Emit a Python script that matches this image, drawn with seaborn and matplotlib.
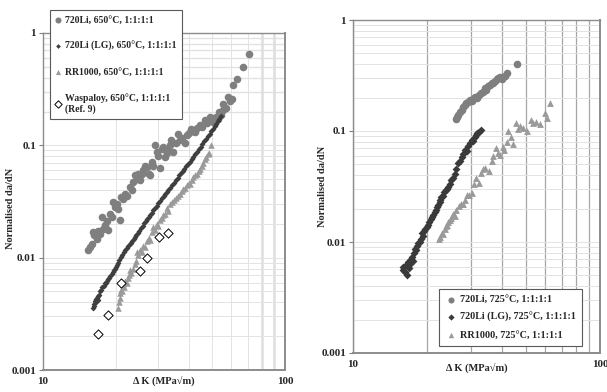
import matplotlib
matplotlib.use('Agg')
import matplotlib.pyplot as plt
import seaborn as sns
from matplotlib.ticker import FixedLocator, LogLocator, NullFormatter

sns.set_style('white')
plt.rcParams['font.family'] = ['Liberation Serif', 'DejaVu Serif']
plt.rcParams['font.weight'] = 'bold'

# ---- 650C data (left panel) ----
li650_x = [15.4, 15.6, 15.9, 16.1, 16.3, 16.7, 16.9, 17.2, 17.5, 17.7, 18.0, 18.3, 18.6,
           18.9, 19.2, 19.5, 19.8, 20.2, 20.5, 20.8, 21.1, 21.4, 21.8, 22.2, 22.9, 23.3,
           23.6, 24.0, 24.4, 24.8, 25.2, 25.6, 26.0, 26.4, 26.9, 27.3, 27.7, 28.1, 28.6,
           29.0, 29.5, 30.0, 30.4, 30.9, 31.4, 31.9, 32.4, 32.9, 33.4, 33.9, 34.5, 35.3,
           36.2, 36.8, 37.6, 38.6, 39.2, 40.1, 41.0, 41.7, 42.4, 43.4, 44.5, 45.5, 46.6,
           47.7, 48.9, 49.7, 50.5, 51.3, 52.1, 52.8, 53.5, 54.4, 55.3, 55.6, 56.8, 58.3,
           59.3, 60.3, 60.9, 63.6, 67.1, 70.8]
li650_y = [0.0116, 0.0125, 0.0133, 0.0168, 0.0158, 0.0147, 0.0174, 0.0163, 0.0229, 0.0181,
           0.0196, 0.0214, 0.0177, 0.0245, 0.0232, 0.0312, 0.0285, 0.0300, 0.0270, 0.0218,
           0.0346, 0.0330, 0.0370, 0.0352, 0.0425, 0.0400, 0.0470, 0.0540, 0.0500, 0.0560,
           0.0490, 0.0560, 0.0600, 0.0660, 0.0640, 0.0560, 0.0540, 0.0710, 0.0650, 0.1000,
           0.0870, 0.0800, 0.0630, 0.0920, 0.0970, 0.0780, 0.0850, 0.0900, 0.1000, 0.1110,
           0.0870, 0.1050, 0.1270, 0.1110, 0.1160, 0.1040, 0.1230, 0.1300, 0.1410, 0.1350,
           0.1310, 0.1420, 0.1510, 0.1450, 0.1670, 0.1580, 0.1790, 0.1700, 0.1620, 0.1760,
           0.1790, 0.1730, 0.1980, 0.1880, 0.2050, 0.2320, 0.2150, 0.2670, 0.2500, 0.2570,
           0.3430, 0.3860, 0.5000, 0.6500]

lg650_x = [16.1, 16.2, 16.3, 16.4, 16.5, 16.6, 16.7, 16.8, 16.9, 17.0, 17.2, 17.4, 17.6,
           17.8, 18.0, 18.2, 18.4, 18.6, 18.8, 19.0, 19.2, 19.4, 19.6, 19.8, 20.0, 20.2,
           20.4, 20.7, 21.0, 21.3, 21.6, 21.9, 22.2, 22.5, 22.8, 23.1, 23.4, 23.7, 24.0,
           24.3, 24.6, 25.0, 25.4, 25.8, 26.2, 26.6, 27.0, 27.4, 27.8, 28.2, 28.6, 29.0,
           29.5, 30.0, 30.5, 31.0, 31.5, 32.0, 32.5, 33.0, 33.6, 34.2, 34.8, 35.4, 36.0,
           36.6, 37.2, 37.8, 38.4, 39.0, 39.7, 40.4, 41.1, 41.8, 42.5, 43.2, 44.0, 44.8,
           45.6, 46.4, 47.2, 48.0, 48.8, 49.6, 50.4, 51.2, 52.0, 52.8, 53.6, 54.4]
lg650_y = [0.0036, 0.0039, 0.0037, 0.0041, 0.0040, 0.0043, 0.0044, 0.0042, 0.0046, 0.0047,
           0.0050, 0.0052, 0.0055, 0.0056, 0.0059, 0.0060, 0.0062, 0.0065, 0.0066, 0.0069,
           0.0071, 0.0074, 0.0077, 0.0079, 0.0082, 0.0086, 0.0090, 0.0095, 0.0101, 0.0106,
           0.0112, 0.0117, 0.0121, 0.0126, 0.0131, 0.0135, 0.0140, 0.0146, 0.0152, 0.0159,
           0.0166, 0.0174, 0.0182, 0.0193, 0.0203, 0.0212, 0.0222, 0.0232, 0.0241, 0.0252,
           0.0263, 0.0275, 0.0290, 0.0305, 0.0322, 0.0338, 0.0352, 0.0368, 0.0385, 0.0402,
           0.0421, 0.0443, 0.0466, 0.0490, 0.0515, 0.0543, 0.0568, 0.0593, 0.0620, 0.0648,
           0.0680, 0.0716, 0.0752, 0.0790, 0.0830, 0.0870, 0.0920, 0.0975, 0.1030, 0.1090,
           0.1150, 0.1210, 0.1270, 0.1340, 0.1410, 0.1480, 0.1550, 0.1640, 0.1730, 0.1820]

rr650_x = [20.4, 20.6, 20.8, 20.9, 21.1, 21.3, 21.5, 21.7, 21.9, 22.2, 22.4, 22.7, 22.9,
           23.2, 23.6, 23.9, 24.3, 24.4, 24.8, 25.2, 25.6, 26.0, 26.4, 26.8, 27.3, 27.7,
           28.2, 28.6, 29.0, 29.5, 30.0, 30.5, 31.0, 31.4, 32.0, 32.5, 33.0, 33.5, 34.2,
           34.8, 35.5, 36.2, 36.8, 37.4, 38.0, 38.7, 39.4, 40.0, 40.5, 41.2, 41.8, 42.5,
           43.2, 44.0, 44.6, 45.2, 46.0, 46.6, 47.3, 47.9, 48.5, 49.3]
rr650_y = [0.0036, 0.0040, 0.0044, 0.0048, 0.0052, 0.0050, 0.0058, 0.0055, 0.0062, 0.0060,
           0.0066, 0.0070, 0.0077, 0.0073, 0.0079, 0.0088, 0.0093, 0.0112, 0.0105, 0.0118,
           0.0113, 0.0128, 0.0124, 0.0140, 0.0150, 0.0145, 0.0170, 0.0187, 0.0176, 0.0200,
           0.0192, 0.0215, 0.0226, 0.0240, 0.0245, 0.0275, 0.0262, 0.0300, 0.0310, 0.0325,
           0.0340, 0.0355, 0.0370, 0.0392, 0.0405, 0.0420, 0.0440, 0.0460, 0.0450, 0.0495,
           0.0520, 0.0545, 0.0560, 0.0590, 0.0620, 0.0650, 0.0700, 0.0760, 0.0790, 0.0840,
           0.0860, 0.1000]

wasp_x = [16.9, 18.6, 21.0, 25.2, 26.9, 30.1, 32.8]
wasp_y = [0.0021, 0.0031, 0.0060, 0.0076, 0.0100, 0.0154, 0.0167]

# ---- 725C data (right panel) ----
li725_x = [26.1, 26.4, 26.7, 27.1, 27.5, 27.9, 28.4, 28.8, 29.3, 29.8, 30.2, 30.8, 31.3,
           31.8, 32.4, 33.1, 33.6, 34.1, 34.7, 35.2, 35.9, 36.5, 37.0, 37.6, 38.2, 38.8,
           39.4, 40.0, 40.6, 41.3, 42.2, 46.3]
li725_y = [0.128, 0.134, 0.139, 0.149, 0.155, 0.165, 0.170, 0.178, 0.184, 0.190, 0.188,
           0.198, 0.204, 0.200, 0.212, 0.218, 0.226, 0.242, 0.236, 0.255, 0.260, 0.268,
           0.272, 0.280, 0.292, 0.300, 0.304, 0.296, 0.308, 0.310, 0.330, 0.400]

lg725_x = [15.9, 16.0, 16.2, 16.4, 16.5, 16.7, 16.8, 17.0, 17.2, 17.3, 17.5, 17.7, 17.8,
           18.0, 18.2, 18.4, 18.6, 18.8, 19.0, 19.2, 19.4, 19.6, 19.9, 20.1, 20.4, 20.6,
           20.8, 21.1, 21.4, 21.6, 21.8, 22.1, 22.4, 22.6, 22.8, 23.1, 23.4, 23.7, 24.0,
           24.3, 24.7, 25.0, 25.4, 25.8, 26.2, 26.7, 27.1, 27.5, 28.0, 28.4, 28.9, 29.3,
           29.8, 30.2, 30.6, 31.1, 31.5, 31.9, 32.5, 33.1]
lg725_y = [0.0060, 0.0056, 0.0054, 0.0062, 0.0050, 0.0066, 0.0058, 0.0064, 0.0070, 0.0074,
           0.0068, 0.0080, 0.0087, 0.0084, 0.0092, 0.0097, 0.0100, 0.0106, 0.0120, 0.0114,
           0.0126, 0.0130, 0.0137, 0.0142, 0.0150, 0.0160, 0.0169, 0.0176, 0.0185, 0.0196,
           0.0208, 0.0215, 0.0228, 0.0240, 0.0256, 0.0262, 0.0280, 0.0292, 0.0300, 0.0316,
           0.0330, 0.0360, 0.0376, 0.0410, 0.0450, 0.0510, 0.0540, 0.0580, 0.0620, 0.0680,
           0.0660, 0.0730, 0.0780, 0.0830, 0.0810, 0.0880, 0.0920, 0.0960, 0.0980, 0.1020]

rr725_x = [22.3, 22.6, 22.9, 23.2, 23.5, 23.8, 24.0, 24.3, 24.6, 25.0, 25.4, 25.8, 26.2,
           26.8, 27.4, 27.9, 28.4, 29.0, 29.5, 30.2, 31.0, 31.6, 32.4, 33.0, 33.6, 34.2,
           35.5, 36.5, 37.0, 38.1, 38.8, 39.4, 40.5, 41.0, 42.0, 42.6, 43.5, 44.5, 45.6,
           46.5, 47.4, 48.7, 50.5, 52.5, 53.6, 55.0, 57.0, 59.8, 60.8, 62.8]
rr725_y = [0.0106, 0.0112, 0.0120, 0.0118, 0.0130, 0.0138, 0.0142, 0.0150, 0.0158, 0.0165,
           0.0180, 0.0172, 0.0195, 0.0210, 0.0218, 0.0222, 0.0240, 0.0265, 0.0265, 0.0275,
           0.0330, 0.0375, 0.0340, 0.0420, 0.0450, 0.0460, 0.0440, 0.0540, 0.0590, 0.0700,
           0.0640, 0.0610, 0.0720, 0.0680, 0.0800, 0.0990, 0.0880, 0.0770, 0.1170, 0.1050,
           0.1100, 0.1060, 0.1000, 0.1250, 0.1170, 0.1200, 0.1150, 0.1450, 0.1300, 0.1800]

fig = plt.figure(figsize=(6.07, 3.92), dpi=100)
ax1 = fig.add_axes([43 / 607, 22 / 392, 242 / 607, 337 / 392])
ax2 = fig.add_axes([353 / 607, 39 / 392, 247 / 607, 333 / 392])

light = '#e3e3e3'
mid = '#a6a6a6'

for ax in (ax1, ax2):
    ax.set_xscale('log')
    ax.set_yscale('log')
    ax.set_xlim(10, 100)
    ax.set_ylim(0.001, 1)
    ax.set_axisbelow(True)
    ax.xaxis.set_major_locator(FixedLocator([10, 100]))
    ax.xaxis.set_minor_locator(LogLocator(base=10, subs=range(2, 10)))
    ax.xaxis.set_minor_formatter(NullFormatter())
    ax.set_xticklabels(['10', '100'])
    ax.yaxis.set_major_locator(FixedLocator([0.001, 0.01, 0.1, 1]))
    ax.yaxis.set_minor_locator(LogLocator(base=10, subs=range(2, 10)))
    ax.yaxis.set_minor_formatter(NullFormatter())
    ax.set_yticklabels(['0.001', '0.01', '0.1', '1'])
    ax.tick_params(axis='both', which='major', labelsize=8, length=3, color='#808080',
                   direction='out', left=True, bottom=True)
    ax.tick_params(axis='x', which='major', pad=5, length=0)
    ax.tick_params(axis='y', which='major', pad=2)
    ax.tick_params(which='minor', length=0)
    ax.grid(True, which='both', axis='y', color=light, lw=0.7)
    for sp in ax.spines.values():
        sp.set_color('#8c8c8c')
        sp.set_linewidth(1.0)
    ax.spines['bottom'].set_linewidth(1.4)
    ax.spines['right'].set_linewidth(1.4)
    ax.set_xlabel('Δ K (MPa√m)', fontsize=7.5, fontweight='bold')
    ax.set_ylabel('Normalised da/dN', fontsize=7.5, fontweight='bold')

# left panel grid: light verticals, darker lines in the upper decade and at 80/90
ax1.grid(True, which='both', axis='x', color=light, lw=0.7)
for v in [0.2, 0.3, 0.4, 0.5, 0.6, 0.7, 0.8, 0.9]:
    ax1.axhline(v, color=mid, lw=0.8, zorder=0.5)
for v in [80, 90]:
    ax1.axvline(v, color='#7f7f7f', lw=1.0, zorder=0.5)

# right panel grid: mid-grey verticals
ax2.grid(True, which='both', axis='x', color=mid, lw=0.9)

sns.scatterplot(x=li650_x, y=li650_y, ax=ax1, marker='o', s=30, color='#7f7f7f',
                linewidth=0, label='720Li, 650°C, 1:1:1:1', zorder=3)
sns.scatterplot(x=lg650_x, y=lg650_y, ax=ax1, marker='D', s=9, color='#3f3f3f',
                linewidth=0, label='720Li (LG), 650°C, 1:1:1:1', zorder=4)
sns.scatterplot(x=rr650_x, y=rr650_y, ax=ax1, marker='^', s=22, color='#9a9a9a',
                linewidth=0, label='RR1000, 650°C, 1:1:1:1', zorder=3)
sns.scatterplot(x=wasp_x, y=wasp_y, ax=ax1, marker='D', s=22, facecolor='white',
                edgecolor='black', linewidth=0.7,
                label='Waspaloy, 650°C, 1:1:1:1\n(Ref. 9)', zorder=5)

sns.scatterplot(x=li725_x, y=li725_y, ax=ax2, marker='o', s=30, color='#7f7f7f',
                linewidth=0, label='720Li, 725°C, 1:1:1:1', zorder=3)
sns.scatterplot(x=lg725_x, y=lg725_y, ax=ax2, marker='D', s=16, color='#3a3a3a',
                linewidth=0, label='720Li (LG), 725°C, 1:1:1:1', zorder=4)
sns.scatterplot(x=rr725_x, y=rr725_y, ax=ax2, marker='^', s=24, color='#9a9a9a',
                linewidth=0, label='RR1000, 725°C, 1:1:1:1', zorder=3)

ax1.xaxis.set_label_coords(0.5, -0.018)
ax2.xaxis.set_label_coords(0.5, -0.03)
ax1.yaxis.set_label_coords(-0.115, 0.48)
ax2.yaxis.set_label_coords(-0.105, 0.5)

leg1 = ax1.legend(loc='upper left', bbox_to_anchor=(50 / 607, 1 - 10 / 392),
                  bbox_transform=fig.transFigure, frameon=True, fancybox=False,
                  edgecolor='#595959', framealpha=1, fontsize=7, labelspacing=1.7,
                  handlelength=0.6, handletextpad=0.4, borderpad=0.55, markerscale=0.8,
                  borderaxespad=0)
leg1.get_frame().set_linewidth(0.8)
leg1.set_zorder(10)

leg2 = ax2.legend(loc='upper left', bbox_to_anchor=(439 / 607, 1 - 289 / 392),
                  bbox_transform=fig.transFigure, frameon=True, fancybox=False,
                  edgecolor='#595959', framealpha=1, fontsize=7.3, labelspacing=0.8,
                  handlelength=1.2, handletextpad=0.3, borderpad=0.6, markerscale=0.8,
                  borderaxespad=0)
leg2.get_frame().set_linewidth(0.8)

fig.savefig('out.png', dpi=100)
